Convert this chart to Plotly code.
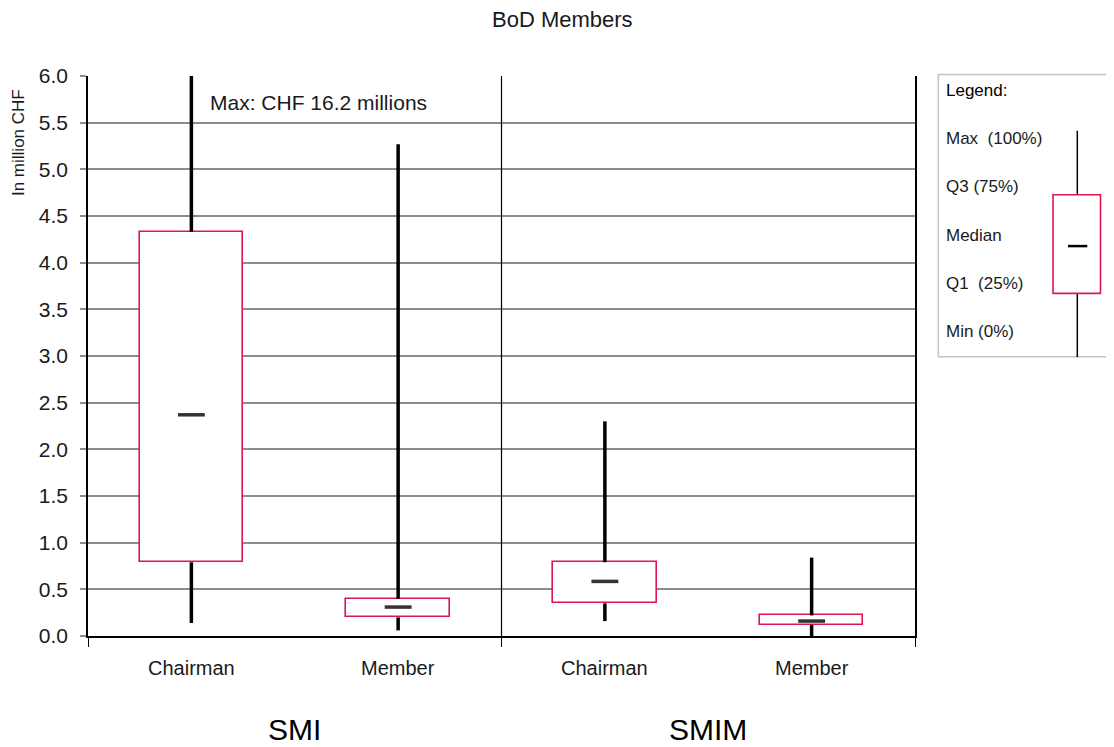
import plotly.graph_objects as go

# ---- data ----
categories = ["Chairman", "Member", "Chairman", "Member"]
x_pos = [0.5, 1.5, 2.5, 3.5]
groups = ["SMI", "SMIM"]
group_centers = [1.0, 3.0]
mins = [0.14, 0.06, 0.16, 0.0]
q1 = [0.79, 0.20, 0.35, 0.12]
medians = [2.37, 0.31, 0.585, 0.16]
q3 = [4.33, 0.40, 0.79, 0.22]
maxs = [16.2, 5.27, 2.30, 0.84]
y_ticks = [0.0, 0.5, 1.0, 1.5, 2.0, 2.5, 3.0, 3.5, 4.0, 4.5, 5.0, 5.5, 6.0]
legend_labels = ["Max  (100%)", "Q3 (75%)", "Median", "Q1  (25%)", "Min (0%)"]

RED = "#E0174F"
FONT = "Liberation Sans, Arial, sans-serif"
TXT = "#1a1a1a"

# page adds an 8px body margin; work in page pixels and shift
OFF = 8
W, H = 1114 - OFF, 747 - OFF
L, R, T, B = 88, 915, 76, 635.7   # plot area in page pixels


def px(x):
    return (x - L) / (R - L)


def py(y):
    return (B - y) / (B - T)


fig = go.Figure()

# whiskers
wx, wy = [], []
for p, lo, a, b, hi in zip(x_pos, mins, q1, q3, maxs):
    wx += [p, p, None, p, p, None]
    wy += [lo, a, None, b, hi, None]
fig.add_trace(go.Scatter(x=wx, y=wy, mode="lines",
                         line=dict(color="black", width=3.5),
                         hoverinfo="skip", showlegend=False))

# boxes
fig.add_trace(go.Bar(x=x_pos, y=[b - a for a, b in zip(q1, q3)], base=q1,
                     width=0.5,
                     marker=dict(color="white", line=dict(color=RED, width=1.6)),
                     showlegend=False))

# medians
mx, my = [], []
for p, m in zip(x_pos, medians):
    mx += [p - 0.065, p + 0.065, None]
    my += [m, m, None]
fig.add_trace(go.Scatter(x=mx, y=my, mode="lines",
                         line=dict(color="#333333", width=3.5),
                         hoverinfo="skip", showlegend=False))

shapes = []
# divider between SMI and SMIM
shapes.append(dict(type="line", xref="x", yref="y", x0=2, x1=2, y0=0, y1=6,
                   line=dict(color="black", width=1.2)))

# legend panel
shapes.append(dict(type="rect", xref="paper", yref="paper",
                   x0=px(938.3), x1=px(1125), y0=py(356.7), y1=py(74.5),
                   line=dict(color="#c4c4c4", width=1.5), fillcolor="white", layer="below"))
shapes.append(dict(type="line", xref="paper", yref="paper",
                   x0=px(1077.3), x1=px(1077.3), y0=py(130.7), y1=py(194.7),
                   line=dict(color="black", width=1.5)))
shapes.append(dict(type="line", xref="paper", yref="paper",
                   x0=px(1077.3), x1=px(1077.3), y0=py(293.3), y1=py(357),
                   line=dict(color="black", width=1.5)))
shapes.append(dict(type="rect", xref="paper", yref="paper",
                   x0=px(1053), x1=px(1100.5), y0=py(293.3), y1=py(194.7),
                   line=dict(color=RED, width=1.6), fillcolor="white"))
shapes.append(dict(type="line", xref="paper", yref="paper",
                   x0=px(1068), x1=px(1087.3), y0=py(246), y1=py(246),
                   line=dict(color="black", width=2.5)))

annotations = []
# title
annotations.append(dict(text="BoD Members", xref="paper", yref="paper",
                        x=px(562), y=py(20), xanchor="center", yanchor="middle",
                        showarrow=False, font=dict(family=FONT, size=22, color=TXT)))
# y-axis title
annotations.append(dict(text="In million CHF", xref="paper", yref="paper",
                        x=px(18), y=py(143), xanchor="center", yanchor="middle",
                        textangle=-90, showarrow=False,
                        font=dict(family=FONT, size=17, color=TXT)))
# max note
annotations.append(dict(text="Max: CHF 16.2 millions", xref="paper", yref="paper",
                        x=px(208), y=py(102), xanchor="left", yanchor="middle",
                        showarrow=False, font=dict(family=FONT, size=21, color=TXT)))
# category labels
for p, c in zip(x_pos, categories):
    annotations.append(dict(text=c, xref="x", yref="paper", x=p, y=py(668),
                            xanchor="center", yanchor="middle", showarrow=False,
                            font=dict(family=FONT, size=20, color=TXT)))
# group labels
for gc, g in zip(group_centers, groups):
    annotations.append(dict(text=g, xref="x", yref="paper", x=gc, y=py(729),
                            xanchor="center", yanchor="middle", showarrow=False,
                            font=dict(family=FONT, size=30, color="black")))
# legend texts
annotations.append(dict(text="Legend:", xref="paper", yref="paper",
                        x=px(944), y=py(90), xanchor="left", yanchor="middle",
                        showarrow=False, font=dict(family=FONT, size=17, color="black")))
for lbl, yy in zip(legend_labels, [138, 186.7, 235, 283, 331.7]):
    annotations.append(dict(text=lbl, xref="paper", yref="paper",
                            x=px(944), y=py(yy), xanchor="left", yanchor="middle",
                            showarrow=False, font=dict(family=FONT, size=17, color=TXT)))

fig.update_layout(
    width=W, height=H,
    margin=dict(l=L - OFF, r=1114 - R, t=T - OFF, b=747 - B, pad=0),
    paper_bgcolor="white", plot_bgcolor="white",
    shapes=shapes, annotations=annotations,
    showlegend=False, bargap=0,
    font=dict(family=FONT, size=20, color=TXT),
    xaxis=dict(range=[0, 4], tickvals=[0, 2, 4], ticktext=["", "", ""],
               ticks="outside", ticklen=9, tickcolor="black", tickwidth=1,
               showline=True, linecolor="black", linewidth=1.5,
               showgrid=False, zeroline=False, fixedrange=True),
    yaxis=dict(range=[0, 6], tickvals=y_ticks, tickformat=".1f",
               ticks="outside", ticklen=6, tickcolor="#8c8c8c", tickwidth=1.5,
               ticklabelstandoff=8,
               tickfont=dict(family=FONT, size=21, color=TXT),
               showgrid=True, gridcolor="#8c8c8c", gridwidth=1.5,
               showline=True, linecolor="black", linewidth=1.5, mirror=True,
               zeroline=False, fixedrange=True),
)

fig.write_html("out.html")
